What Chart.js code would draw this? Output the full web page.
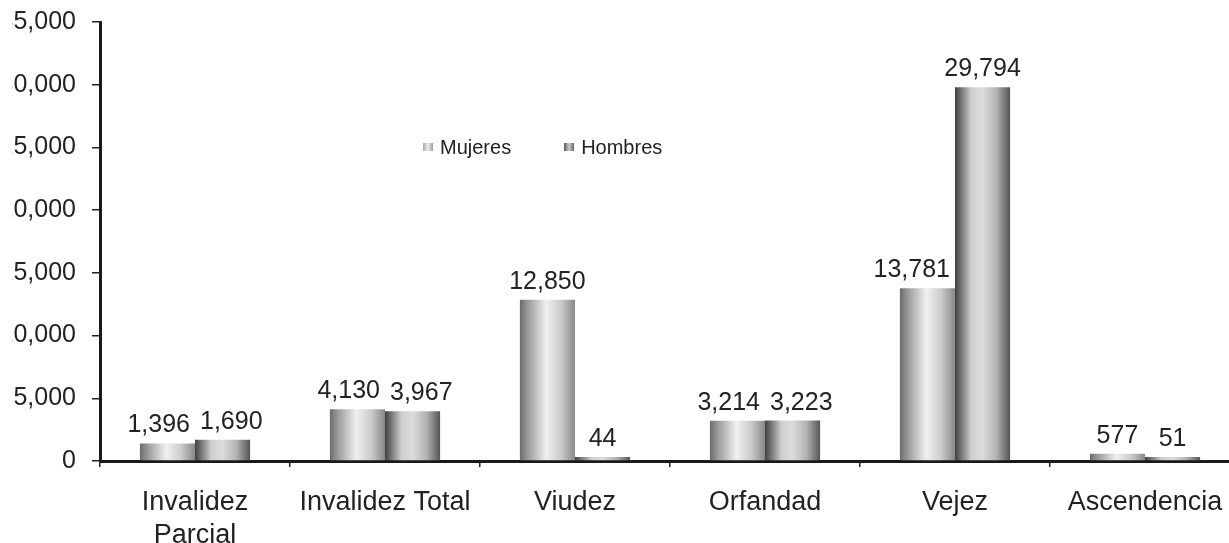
<!DOCTYPE html>
<html>
<head>
<meta charset="utf-8">
<script src="https://cdn.jsdelivr.net/npm/chart.js@4.4.7/dist/chart.umd.min.js"></script>
<style>
  html, body { margin: 0; padding: 0; background: #fff; overflow: hidden; }
  body { width: 1229px; height: 543px; position: relative; font-family: "Liberation Sans", Arial, sans-serif; }
  #clip { position: absolute; left: 12px; top: 0; width: 1217px; height: 543px; overflow: hidden; }
  #wrap { position: absolute; left: -12px; top: 0; width: 1250px; height: 543px; }
  #legend { position: absolute; left: 423px; top: 137px; display: flex; gap: 53px; font-size: 20px; line-height: 20px; color: #222; }
  .item { display: flex; align-items: center; }
  .swatch { width: 10px; height: 8px; margin-right: 7px; }
</style>
</head>
<body>
<div id="clip"><div id="wrap"><canvas id="chart" width="1250" height="543"></canvas></div></div>
<div id="legend"></div>
<script>
  var categories = [["Invalidez", "Parcial"], "Invalidez Total", "Viudez", "Orfandad", "Vejez", "Ascendencia"];
  var seriesNames = ["Mujeres", "Hombres"];
  var mujeres = [1396, 4130, 12850, 3214, 13781, 577];
  var hombres = [1690, 3967, 44, 3223, 29794, 51];
  var yMax = 35000;
  var yStep = 5000;

  var FONT = '"Liberation Sans", Arial, sans-serif';
  var CAT_PCT = 0.58;

  // cylinder-like shading, left to right across one bar
  var lightStops = [[0, "#6c6c6c"], [0.15, "#9c9c9c"], [0.48, "#f0f0f0"], [0.75, "#cbcbcb"], [1, "#888888"]];
  var darkStops = [[0, "#3f3f3f"], [0.08, "#666666"], [0.3, "#cfcfcf"], [0.5, "#dcdcdc"], [0.75, "#b3b3b3"], [1, "#555555"]];
  var swatchCss = [
    "linear-gradient(to right, #aaa, #eee 50%, #999)",
    "linear-gradient(to right, #555, #ccc 50%, #666)"
  ];

  function shade(stops) {
    return function (c) {
      var chart = c.chart;
      var xs = chart.scales.x;
      if (c.type !== "data" || !xs || !chart.chartArea) return stops[2][1];
      var band = xs.width / categories.length * CAT_PCT;
      var center = xs.getPixelForValue(c.dataIndex);
      var left = c.datasetIndex === 0 ? center - band / 2 : center;
      var g = chart.ctx.createLinearGradient(left, 0, left + band / 2, 0);
      stops.forEach(function (s) { g.addColorStop(s[0], s[1]); });
      return g;
    };
  }

  var valueLabels = {
    id: "valueLabels",
    afterDatasetsDraw: function (chart) {
      var ctx = chart.ctx;
      var size = 25;
      ctx.save();
      ctx.font = size + "px " + FONT;
      ctx.fillStyle = "#222";
      ctx.textAlign = "center";
      ctx.textBaseline = "alphabetic";
      var m0 = chart.getDatasetMeta(0);
      var m1 = chart.getDatasetMeta(1);
      m0.data.forEach(function (b0, i) {
        var b1 = m1.data[i];
        var labs = [
          { text: mujeres[i].toLocaleString("en-US"), bar: b0 },
          { text: hombres[i].toLocaleString("en-US"), bar: b1 }
        ];
        labs.forEach(function (l) {
          l.w = ctx.measureText(l.text).width;
          l.x = l.bar.x;
          l.y = l.bar.y - 11;
        });
        var a = labs[0], b = labs[1];
        // keep a label clear of a taller neighbouring bar
        if (b1.y < a.y) a.x = Math.min(a.x, b1.x - b1.width / 2 - 5 - a.w / 2);
        if (b0.y < b.y) b.x = Math.max(b.x, b0.x + b0.width / 2 + 5 + b.w / 2);
        // push side-by-side labels apart when they collide
        var overlap = (a.x + a.w / 2 + 10) - (b.x - b.w / 2);
        if (overlap > 0 && Math.abs(a.y - b.y) < size) {
          a.x -= overlap / 2;
          b.x += overlap / 2;
        }
        labs.forEach(function (l) { ctx.fillText(l.text, l.x, l.y); });
      });
      ctx.restore();
    }
  };

  new Chart(document.getElementById("chart"), {
    type: "bar",
    data: {
      labels: categories,
      datasets: [
        { label: seriesNames[0], data: mujeres, backgroundColor: shade(lightStops), minBarLength: 4 },
        { label: seriesNames[1], data: hombres, backgroundColor: shade(darkStops), minBarLength: 4 }
      ]
    },
    options: {
      responsive: false,
      animation: false,
      events: [],
      layout: { padding: { top: 22, right: 10, left: 0, bottom: 0 } },
      datasets: { bar: { categoryPercentage: CAT_PCT, barPercentage: 1 } },
      plugins: {
        legend: { display: false },
        tooltip: { enabled: false }
      },
      scales: {
        x: {
          offset: true,
          grid: { drawOnChartArea: false, drawTicks: true, tickLength: 6, offset: true, color: "#222", lineWidth: 1.5 },
          border: { display: true, color: "#1a1a1a", width: 3 },
          ticks: { color: "#222", font: { size: 27, family: FONT, lineHeight: 1.22 }, padding: 19, maxRotation: 0, autoSkip: false },
          afterFit: function (s) { s.height = 82; }
        },
        y: {
          min: 0,
          max: yMax,
          ticks: {
            stepSize: yStep,
            color: "#222",
            font: { size: 25, family: FONT },
            padding: 16,
            callback: function (v) { return Number(v).toLocaleString("en-US"); }
          },
          grid: { drawOnChartArea: false, tickLength: 8, color: "#222", lineWidth: 1.5 },
          border: { display: true, color: "#1a1a1a", width: 3 },
          afterFit: function (s) {
            s.width = 100;
            s.paddingTop = 0;
            s.paddingBottom = 0;
          }
        }
      }
    },
    plugins: [valueLabels]
  });

  document.getElementById("legend").innerHTML = seriesNames.map(function (name, i) {
    return '<span class="item"><span class="swatch" style="background:' + swatchCss[i] + '"></span>' + name + "</span>";
  }).join("");
</script>
</body>
</html>
